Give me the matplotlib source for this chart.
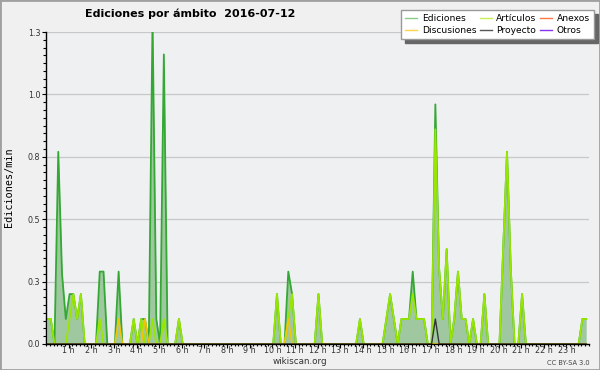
import matplotlib
matplotlib.use("Agg")
import matplotlib.pyplot as plt
from matplotlib.lines import Line2D
from matplotlib.patches import Rectangle
import numpy as np

# Ediciones por minuto, una muestra cada 10 minutos (144 por dia)
ediciones = [
    0.1, 0.1, 0, 0.77, 0.28, 0.1, 0.2, 0.2, 0.1, 0.2, 0, 0,
    0, 0, 0.29, 0.29, 0, 0, 0, 0.29, 0, 0, 0, 0.1,
    0, 0.1, 0.1, 0, 1.3, 0.1, 0, 1.16, 0, 0, 0, 0.1,
    0, 0, 0, 0, 0, 0, 0, 0, 0, 0, 0, 0,
    0, 0, 0, 0, 0, 0, 0, 0, 0, 0, 0, 0,
    0, 0.2, 0, 0, 0.29, 0.2, 0, 0, 0, 0, 0, 0,
    0.2, 0, 0, 0, 0, 0, 0, 0, 0, 0, 0, 0.1,
    0, 0, 0, 0, 0, 0, 0.1, 0.2, 0.1, 0, 0.1, 0.1,
    0.1, 0.29, 0.1, 0.1, 0.1, 0, 0, 0.96, 0.3, 0.1, 0.38, 0,
    0.1, 0.29, 0.1, 0.1, 0, 0.1, 0, 0, 0.2, 0, 0, 0,
    0, 0.38, 0.77, 0.3, 0, 0, 0.2, 0, 0, 0, 0, 0,
    0, 0, 0, 0, 0, 0, 0, 0, 0, 0, 0.1, 0.1,
]
articulos = [
    0.1, 0.1, 0, 0, 0, 0, 0.1, 0.2, 0.1, 0.2, 0, 0,
    0, 0, 0.1, 0, 0, 0, 0, 0, 0, 0, 0, 0.1,
    0, 0.1, 0, 0, 0.1, 0, 0, 0.1, 0, 0, 0, 0.1,
    0, 0, 0, 0, 0, 0, 0, 0, 0, 0, 0, 0,
    0, 0, 0, 0, 0, 0, 0, 0, 0, 0, 0, 0,
    0, 0.2, 0, 0, 0.1, 0.2, 0, 0, 0, 0, 0, 0,
    0.2, 0, 0, 0, 0, 0, 0, 0, 0, 0, 0, 0.1,
    0, 0, 0, 0, 0, 0, 0.1, 0.2, 0.1, 0, 0.1, 0.1,
    0.1, 0.2, 0.1, 0.1, 0.1, 0, 0, 0.86, 0.3, 0.1, 0.38, 0,
    0.1, 0.29, 0.1, 0.1, 0, 0.1, 0, 0, 0.2, 0, 0, 0,
    0, 0.38, 0.77, 0.3, 0, 0, 0.2, 0, 0, 0, 0, 0,
    0, 0, 0, 0, 0, 0, 0, 0, 0, 0, 0.1, 0.1,
]
# series casi vacias: (indice de muestra, valor)
discusiones_pts = [(19, 0.1), (26, 0.1), (64, 0.1)]
proyecto_pts = [(103, 0.1)]
anexos_pts = []
otros_pts = []

hour_labels = [f"{h} h" for h in range(1, 24)]
y_ticks = [0, 0.25, 0.5, 0.75, 1.0, 1.25]
y_labels = ["0.0", "0.3", "0.5", "0.8", "1.0", "1.3"]


def to_series(pts, n=144):
    s = np.zeros(n)
    for i, v in pts:
        s[i] = v
    return s


discusiones = to_series(discusiones_pts)
proyecto = to_series(proyecto_pts)
anexos = to_series(anexos_pts)
otros = to_series(otros_pts)

x = (np.arange(144) + 0.25) * 10  # minutos

fig = plt.figure(figsize=(6, 3.7), dpi=100, facecolor="#f0f0f0")
ax = fig.add_axes([0.0767, 0.0703, 0.905, 0.8432])
ax.set_facecolor("#eef0f2")

ax.plot(x, otros, color="#9933ee", lw=1, zorder=1)
ax.plot(x, anexos, color="#ff7744", lw=1, zorder=1)
ax.fill_between(x, 0, ediciones, color="#a0c8a0", lw=0, zorder=1.2)
ax.plot(x, ediciones, color="#33a833", lw=1.3, zorder=2)
ax.plot(x, articulos, color="#99e600", lw=1.3, zorder=2.1)
ax.plot(x, discusiones, color="#f5c400", lw=1.2, zorder=2.2)
ax.plot(x, proyecto, color="#333333", lw=1.0, zorder=2.3)

ax.set_xlim(0, 1440)
ax.set_ylim(0, 1.25)
ax.set_xticks(np.arange(60, 1440, 60))
ax.set_xticklabels(hour_labels)
ax.set_xticks(np.arange(0, 1441, 10), minor=True)
ax.set_yticks(y_ticks)
ax.set_yticklabels(y_labels)
ax.set_yticks(np.arange(0, 1.25, 0.03125), minor=True)
ax.tick_params(axis="y", which="major", length=3, width=0.8, labelsize=5.8,
               pad=1.2, labelcolor="#333333")
ax.tick_params(axis="y", which="minor", length=2, width=0.8)
ax.tick_params(axis="x", which="major", length=3, width=0.8, labelsize=5.8,
               pad=-1.5, labelcolor="#333333")
ax.tick_params(axis="x", which="minor", length=1.6, width=0.8)

ax.yaxis.grid(True, color="#c8c8c8", lw=0.9)
ax.set_axisbelow(True)
for s in ["top", "right"]:
    ax.spines[s].set_visible(False)
for s in ["left", "bottom"]:
    ax.spines[s].set_linewidth(1.0)
    ax.spines[s].set_zorder(3)

fig.text(85 / 600, 1 - 14 / 370, "Ediciones por ámbito  2016-07-12",
         fontsize=8, fontweight="bold", ha="left", va="center")
fig.text(0.0155, 0.493, "Ediciones/min", rotation=90, family="DejaVu Sans Mono",
         fontsize=7.3, ha="center", va="center")
fig.text(0.5, 1 - 362 / 370, "wikiscan.org", fontsize=6.3, color="#333333",
         ha="center", va="center")
fig.text(0.983, 1 - 363 / 370, "CC BY-SA 3.0", fontsize=4.8, color="#444444",
         ha="right", va="center")

handles = [
    Line2D([], [], color="#88cc88", lw=1),
    Line2D([], [], color="#ffd24d", lw=1),
    Line2D([], [], color="#ccee55", lw=1),
    Line2D([], [], color="#555555", lw=1),
    Line2D([], [], color="#ff7744", lw=1),
    Line2D([], [], color="#8833ee", lw=1),
]
labels = ["Ediciones", "Discusiones", "Artículos", "Proyecto", "Anexos", "Otros"]
fig.legend(handles, labels, ncol=3, loc="upper right",
           bbox_to_anchor=(594 / 600, 1 - 10 / 370), fontsize=6.6,
           frameon=True, fancybox=False, edgecolor="#999999",
           shadow={"ox": 3, "oy": -3, "color": "#666666", "alpha": 1},
           borderpad=0.45, labelspacing=0.3, handlelength=1.3,
           columnspacing=0.4, handletextpad=0.5, borderaxespad=0)

fig.patches.append(Rectangle((0, 0), 1, 1, transform=fig.transFigure,
                             fill=False, ec="#a0a0a0", lw=2))

fig.savefig("out.png", dpi=100, facecolor=fig.get_facecolor())
